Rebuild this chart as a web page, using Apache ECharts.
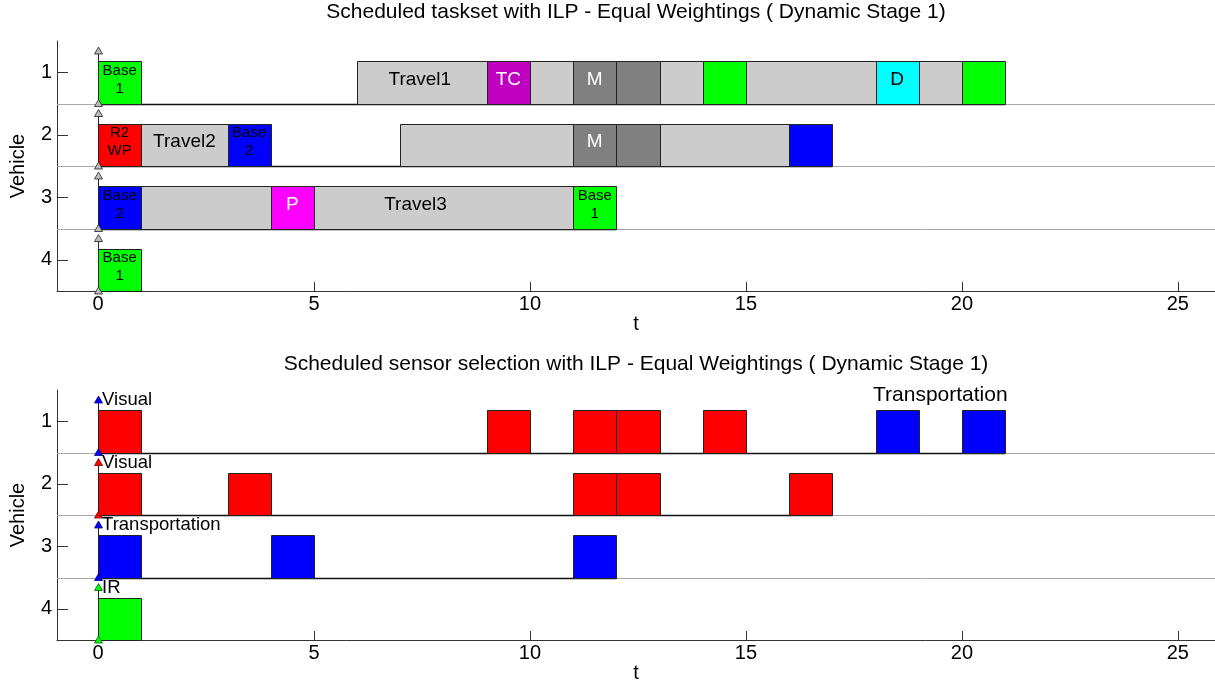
<!DOCTYPE html>
<html>
<head>
<meta charset="utf-8">
<script src="https://cdn.jsdelivr.net/npm/echarts@6/dist/echarts.min.js"></script>
<style>
html, body { margin: 0; padding: 0; background: #fff; }
#chart { width: 1215px; height: 684px; }
</style>
</head>
<body>
<div id="chart"></div>
<script>
// ---- data ----
const vehicles = ['1', '2', '3', '4'];
const tickValues = [0, 5, 10, 15, 20, 25];
const taskTitle = 'Scheduled taskset with ILP - Equal Weightings ( Dynamic Stage 1)';
const sensorTitle = 'Scheduled sensor selection with ILP - Equal Weightings ( Dynamic Stage 1)';

// [vehicle index, start, end, task kind]
const tasks = [
  [0, 0, 1, 'base1'], [0, 6, 9, 'travel'], [0, 9, 10, 'tc'], [0, 10, 11, 'travel'],
  [0, 11, 12, 'monitor'], [0, 12, 13, 'monitor'], [0, 13, 14, 'travel'], [0, 14, 15, 'base1'],
  [0, 15, 18, 'travel'], [0, 18, 19, 'deliver'], [0, 19, 20, 'travel'], [0, 20, 21, 'base1'],
  [1, 0, 1, 'wp'], [1, 1, 3, 'travel'], [1, 3, 4, 'base2'], [1, 7, 11, 'travel'],
  [1, 11, 12, 'monitor'], [1, 12, 13, 'monitor'], [1, 13, 16, 'travel'], [1, 16, 17, 'base2'],
  [2, 0, 1, 'base2'], [2, 1, 4, 'travel'], [2, 4, 5, 'pickup'], [2, 5, 11, 'travel'], [2, 11, 12, 'base1'],
  [3, 0, 1, 'base1']
];

// [vehicle index, time, text]
const taskLabels = [
  [0, 0.5, 'Base\n1'], [0, 7.45, 'Travel1'], [0, 9.5, 'TC'], [0, 11.5, 'M'], [0, 18.5, 'D'],
  [1, 0.5, 'R2\nWP'], [1, 2, 'Travel2'], [1, 3.5, 'Base\n2'], [1, 11.5, 'M'],
  [2, 0.5, 'Base\n2'], [2, 4.5, 'P'], [2, 7.35, 'Travel3'], [2, 11.5, 'Base\n1'],
  [3, 0.5, 'Base\n1']
];

// [vehicle index, start, end, sensor]
const sensorSlots = [
  [0, 0, 1, 'Visual'], [0, 9, 10, 'Visual'], [0, 11, 12, 'Visual'], [0, 12, 13, 'Visual'],
  [0, 14, 15, 'Visual'], [0, 18, 19, 'Transportation'], [0, 20, 21, 'Transportation'],
  [1, 0, 1, 'Visual'], [1, 3, 4, 'Visual'], [1, 11, 12, 'Visual'], [1, 12, 13, 'Visual'], [1, 16, 17, 'Visual'],
  [2, 0, 1, 'Transportation'], [2, 4, 5, 'Transportation'], [2, 11, 12, 'Transportation'],
  [3, 0, 1, 'IR']
];

// sensor named beside each vehicle's start marker, and the sensor the marker shows
const startSensorNames = ['Visual', 'Visual', 'Transportation', 'IR'];
const startMarkerSensors = ['Transportation', 'Visual', 'Transportation', 'IR'];
// [vehicle index, time, text]
const sensorSwitchLabels = [[0, 19.5, 'Transportation']];

// ---- styles ----
const FONT = '"Liberation Sans", Arial, Helvetica, sans-serif';
const taskColors = {
  base1: '#00ff00', base2: '#0000ff', wp: '#ff0000', travel: '#cccccc',
  tc: '#bf00bf', monitor: '#808080', deliver: '#00ffff', pickup: '#ff00ff'
};
const whiteTextKinds = ['tc', 'monitor', 'pickup'];
const smallTextKinds = ['base1', 'base2', 'wp'];
const sensorColors = { Visual: '#ff0000', Transportation: '#0000ff', IR: '#00ff00' };
const sensorStroke = { Visual: '#7a0000', Transportation: '#00007a', IR: '#006000' };

// bar spans from this fraction of the band above the row centre down to the row bottom
const BAR_TOP = 0.18;
const MARK_TOP = 0.34;

function rowEnds(list) {
  const ends = vehicles.map(() => 0);
  list.forEach(d => { ends[d[0]] = Math.max(ends[d[0]], d[2]); });
  return ends;
}

function separatorRender(ends) {
  return function (params, api) {
    const row = api.value(0);
    const band = api.size([0, 1])[1];
    const c = api.coord([0, row]);
    const yb = Math.round(c[1] + band / 2) + 0.5;
    const cs = params.coordSys;
    const xe = api.coord([ends[row], row])[0];
    return {
      type: 'group',
      children: [
        { type: 'line', shape: { x1: cs.x, y1: yb, x2: cs.x + cs.width, y2: yb },
          style: { stroke: '#a8a8a8', lineWidth: 1 } },
        { type: 'line', shape: { x1: c[0], y1: yb, x2: xe, y2: yb },
          style: { stroke: '#111', lineWidth: 1.6 } }
      ]
    };
  };
}

function barRender(list, colorOf) {
  return function (params, api) {
    const d = list[params.dataIndex];
    const band = api.size([0, 1])[1];
    const s = api.coord([d[1], d[0]]);
    const e = api.coord([d[2], d[0]]);
    const x0 = Math.round(s[0]) + 0.5, x1 = Math.round(e[0]) + 0.5;
    const yt = Math.round(s[1] - band * BAR_TOP) + 0.5;
    const yb = Math.round(s[1] + band / 2) + 0.5;
    return {
      type: 'rect',
      shape: { x: x0, y: yt, width: x1 - x0, height: yb - yt },
      style: { fill: colorOf(d), stroke: '#222', lineWidth: 1 }
    };
  };
}

function markerRender(fillOf, strokeOf) {
  return function (params, api) {
    const row = api.value(0);
    const band = api.size([0, 1])[1];
    const c = api.coord([0, row]);
    const x = Math.round(c[0]) + 0.5;
    const yTop = c[1] - band * MARK_TOP;
    const yBot = c[1] + band / 2;
    const tri = (y) => ({
      type: 'polygon',
      shape: { points: [[x, y - 4], [x - 4, y + 3], [x + 4, y + 3]] },
      style: { fill: fillOf(row), stroke: strokeOf(row), lineWidth: 0.8 }
    });
    return {
      type: 'group',
      children: [
        { type: 'line', shape: { x1: x, y1: yTop, x2: x, y2: yBot }, style: { stroke: '#222', lineWidth: 1 } },
        tri(yTop), tri(yBot)
      ]
    };
  };
}

function kindAt(row, t) {
  const hit = tasks.find(d => d[0] === row && d[1] <= t && t <= d[2]);
  return hit ? hit[3] : 'travel';
}

function taskLabelRender(params, api) {
  const d = taskLabels[params.dataIndex];
  const band = api.size([0, 1])[1];
  const c = api.coord([d[1], d[0]]);
  const kind = kindAt(d[0], d[1]);
  const small = smallTextKinds.indexOf(kind) >= 0;
  return {
    type: 'text',
    x: c[0], y: c[1] + band * 0.115,
    style: {
      text: d[2],
      fill: whiteTextKinds.indexOf(kind) >= 0 ? '#fff' : '#000',
      font: (small ? '15px ' : '19px ') + FONT,
      lineHeight: small ? 18 : 22,
      align: 'center', verticalAlign: 'middle',
      textAlign: 'center', textVerticalAlign: 'middle'
    }
  };
}

function sensorNameRender(params, api) {
  const row = params.dataIndex;
  const band = api.size([0, 1])[1];
  const c = api.coord([0, row]);
  return {
    type: 'text',
    x: c[0] + 4, y: c[1] - band * MARK_TOP,
    style: {
      text: startSensorNames[row], fill: '#000', font: '18.5px ' + FONT,
      align: 'left', verticalAlign: 'middle', textAlign: 'left', textVerticalAlign: 'middle'
    }
  };
}

function switchLabelRender(params, api) {
  const d = sensorSwitchLabels[params.dataIndex];
  const band = api.size([0, 1])[1];
  const c = api.coord([d[1], d[0]]);
  return {
    type: 'text',
    x: c[0], y: c[1] - band * 0.41,
    style: {
      text: d[2], fill: '#000', font: '21px ' + FONT,
      align: 'center', verticalAlign: 'middle', textAlign: 'center', textVerticalAlign: 'middle'
    }
  };
}

const taskEnds = rowEnds(tasks);
const sensorEnds = rowEnds(sensorSlots);

function xAxisFor(gridIndex) {
  return {
    type: 'value', gridIndex, min: -0.95, max: 25.86,
    name: 't', nameLocation: 'middle', nameGap: 18,
    nameTextStyle: { fontSize: 20, color: '#000', fontFamily: FONT },
    axisLine: { show: true, onZero: false, lineStyle: { color: '#333', width: 1 } },
    axisTick: { show: true, inside: true, length: 9, customValues: tickValues, lineStyle: { color: '#333' } },
    axisLabel: { customValues: tickValues, fontSize: 20, color: '#000', fontFamily: FONT, margin: 3 },
    splitLine: { show: false }
  };
}

function yAxisFor(gridIndex) {
  return {
    type: 'category', gridIndex, data: vehicles, inverse: true,
    name: 'Vehicle', nameLocation: 'middle', nameGap: 29,
    nameTextStyle: { fontSize: 20, color: '#000', fontFamily: FONT },
    axisLine: { show: true, onZero: false, lineStyle: { color: '#333', width: 1 } },
    axisTick: { show: true, inside: true, alignWithLabel: true, length: 11, lineStyle: { color: '#333' } },
    axisLabel: { fontSize: 20, color: '#000', fontFamily: FONT, margin: 5 },
    splitLine: { show: false }
  };
}

const sepRows = vehicles.slice(0, vehicles.length - 1).map((v, i) => [i]);
const allRows = vehicles.map((v, i) => [i]);

const option = {
  animation: false,
  backgroundColor: '#fff',
  title: [
    { text: taskTitle, left: 636, top: 2, padding: 0, textAlign: 'center',
      textStyle: { fontSize: 21, fontWeight: 'normal', color: '#000', fontFamily: FONT } },
    { text: sensorTitle, left: 636, top: 354, padding: 0, textAlign: 'center',
      textStyle: { fontSize: 21, fontWeight: 'normal', color: '#000', fontFamily: FONT } }
  ],
  grid: [
    { left: 57, top: 41, width: 1158, height: 250, containLabel: false, outerBoundsMode: 'none' },
    { left: 57, top: 390, width: 1158, height: 250, containLabel: false, outerBoundsMode: 'none' }
  ],
  xAxis: [xAxisFor(0), xAxisFor(1)],
  yAxis: [yAxisFor(0), yAxisFor(1)],
  series: [
    { type: 'custom', xAxisIndex: 0, yAxisIndex: 0, data: sepRows, renderItem: separatorRender(taskEnds), z: 1 },
    { type: 'custom', xAxisIndex: 0, yAxisIndex: 0, data: tasks.map(d => [d[1], d[0]]),
      renderItem: barRender(tasks, d => taskColors[d[3]]), z: 2 },
    { type: 'custom', xAxisIndex: 0, yAxisIndex: 0, data: allRows,
      renderItem: markerRender(() => '#bdbdbd', () => '#222'), z: 3 },
    { type: 'custom', xAxisIndex: 0, yAxisIndex: 0, data: taskLabels.map(d => [d[1], d[0]]),
      renderItem: taskLabelRender, z: 4 },

    { type: 'custom', xAxisIndex: 1, yAxisIndex: 1, data: sepRows, renderItem: separatorRender(sensorEnds), z: 1 },
    { type: 'custom', xAxisIndex: 1, yAxisIndex: 1, data: sensorSlots.map(d => [d[1], d[0]]),
      renderItem: barRender(sensorSlots, d => sensorColors[d[3]]), z: 2 },
    { type: 'custom', xAxisIndex: 1, yAxisIndex: 1, data: allRows,
      renderItem: markerRender(r => sensorColors[startMarkerSensors[r]], r => sensorStroke[startMarkerSensors[r]]), z: 3 },
    { type: 'custom', xAxisIndex: 1, yAxisIndex: 1, data: allRows, renderItem: sensorNameRender, z: 4 },
    { type: 'custom', xAxisIndex: 1, yAxisIndex: 1, data: sensorSwitchLabels.map(d => [d[1], d[0]]),
      renderItem: switchLabelRender, z: 4 }
  ]
};

const chart = echarts.init(document.getElementById('chart'), null, { renderer: 'canvas' });
chart.setOption(option);
</script>
</body>
</html>
